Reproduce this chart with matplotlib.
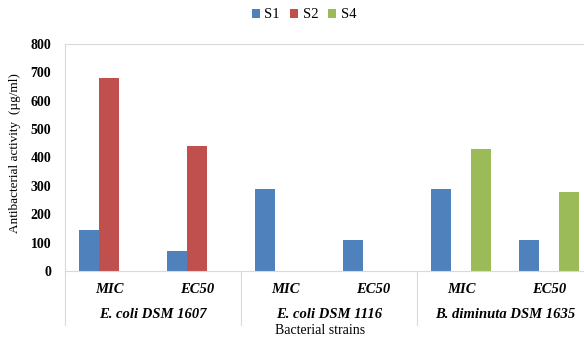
import numpy as np
import matplotlib.pyplot as plt
import matplotlib.transforms as mtransforms

measures = ['MIC', 'EC50', 'MIC', 'EC50', 'MIC', 'EC50']
strains = ['E. coli DSM 1607', 'E. coli DSM 1116', 'B. diminuta DSM 1635']
s1 = [144, 70, 289, 108, 289, 110]
s2 = [680, 440, 0, 0, 0, 0]
s4 = [0, 0, 0, 0, 430, 278]

colors = ['#4F81BD', '#C0504D', '#9BBB59']
plt.rcParams['font.family'] = ['Liberation Serif', 'DejaVu Serif']

fig = plt.figure(figsize=(5.84, 3.37), dpi=100)
ax = fig.add_axes([65 / 584, 66 / 337, 528 / 584, 227 / 337])

x = np.arange(len(measures))
w = 20 / 88
for i, (vals, name) in enumerate(zip([s1, s2, s4], ['S1', 'S2', 'S4'])):
    ax.bar(x + (i - 1) * w, vals, w, color=colors[i], label=name)

ax.set_xlim(-0.5, len(measures) - 0.5)
ax.set_ylim(0, 800)
ax.set_yticks(range(0, 801, 100))
ax.tick_params(axis='y', length=0, labelsize=10, pad=10)
for t in ax.get_yticklabels():
    t.set_fontweight('bold')
ax.set_xticks([])
for s in ax.spines.values():
    s.set_color('#D9D9D9')
    s.set_linewidth(0.8)

ax.set_ylabel('Antibacterial activity  (\u00b5g/ml)', fontsize=9.5)
ax.yaxis.set_label_coords(-0.083, 0.52)

trans = mtransforms.blended_transform_factory(ax.transData, ax.transAxes)
for xi, m in zip(x, measures):
    ax.text(xi, -0.08, m, transform=trans, ha='center', va='center',
            fontsize=10.5, fontweight='bold', fontstyle='italic')
for g, name in enumerate(strains):
    ax.text(2 * g + 0.5, -0.19, name, transform=trans, ha='center', va='center',
            fontsize=10.5, fontweight='bold', fontstyle='italic')
for b in [-0.5, 1.5, 3.5, 5.5]:
    ax.plot([b, b], [0, -0.24], transform=trans, color='#D9D9D9', lw=0.8, clip_on=False)

fig.text(320 / 584, 1 - 331 / 337, 'Bacterial strains', ha='center', va='center', fontsize=10)

fig.legend(loc='center', bbox_to_anchor=(304 / 584, 1 - 15 / 337), ncol=3, frameon=False,
           fontsize=10.5, handlelength=0.55, handleheight=0.55, handletextpad=0.3, columnspacing=0.7)

fig.savefig('out.png', dpi=100)
